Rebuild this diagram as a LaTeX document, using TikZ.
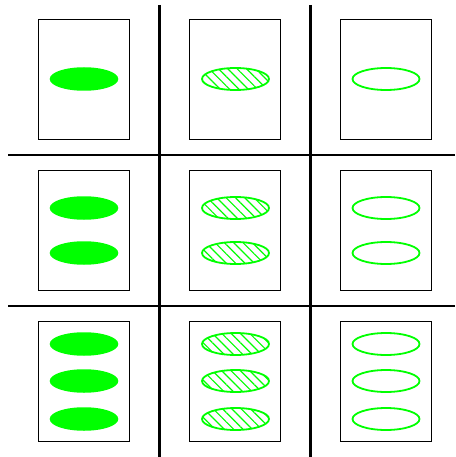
\documentclass[tikz,border=0pt]{standalone}
\usetikzlibrary{patterns.meta,shapes.geometric}
\definecolor{lime}{RGB}{0,255,0}
\begin{document}
\begin{tikzpicture}[x=1pt,y=-1pt,
  card/.style={draw=black,line width=0.8pt,minimum width=91pt,minimum height=120pt,inner sep=0pt},
  grid/.style={line width=2.8pt,black},
  solidov/.style={ellipse,fill=lime,draw=lime,line width=1.5pt,minimum width=67pt,minimum height=22pt,inner sep=0pt},
  stripov/.style={ellipse,draw=lime,line width=1.8pt,minimum width=67pt,minimum height=22pt,inner sep=0pt,
    pattern={Lines[angle=-45,distance=6.6pt,line width=1.2pt]},pattern color=lime},
  openov/.style={ellipse,draw=lime,line width=1.8pt,minimum width=67pt,minimum height=22pt,inner sep=0pt}]
\useasboundingbox (0,0) rectangle (455,457);
% cards
\foreach \c/\x in {1/83.5,2/235,3/386}{
  \foreach \r/\y in {1/79,2/230,3/381}{
    \node[card] (c\c\r) at (\x,\y) {};
  }
}
% grid lines
\coordinate (vt1) at (159.5,5); \coordinate (vb1) at (159.5,457);
\coordinate (vt2) at (310.5,5); \coordinate (vb2) at (310.5,457);
\coordinate (hl1) at (8,155); \coordinate (hr1) at (455,155);
\coordinate (hl2) at (8,306); \coordinate (hr2) at (455,306);
\draw[grid] (vt1) -- (vb1);
\draw[grid] (vt2) -- (vb2);
\draw[grid] (hl1) -- (hr1);
\draw[grid] (hl2) -- (hr2);
% ellipses
\foreach \s/\x [count=\i] in {solidov/84,stripov/235.5,openov/386}{
  \node[\s] (e\i a) at (\x,79) {};
  \node[\s] (e\i b) at (\x,208) {};
  \node[\s] (e\i c) at (\x,253) {};
  \node[\s] (e\i d) at (\x,344) {};
  \node[\s] (e\i e) at (\x,381) {};
  \node[\s] (e\i f) at (\x,419) {};
}
\end{tikzpicture}
\end{document}
